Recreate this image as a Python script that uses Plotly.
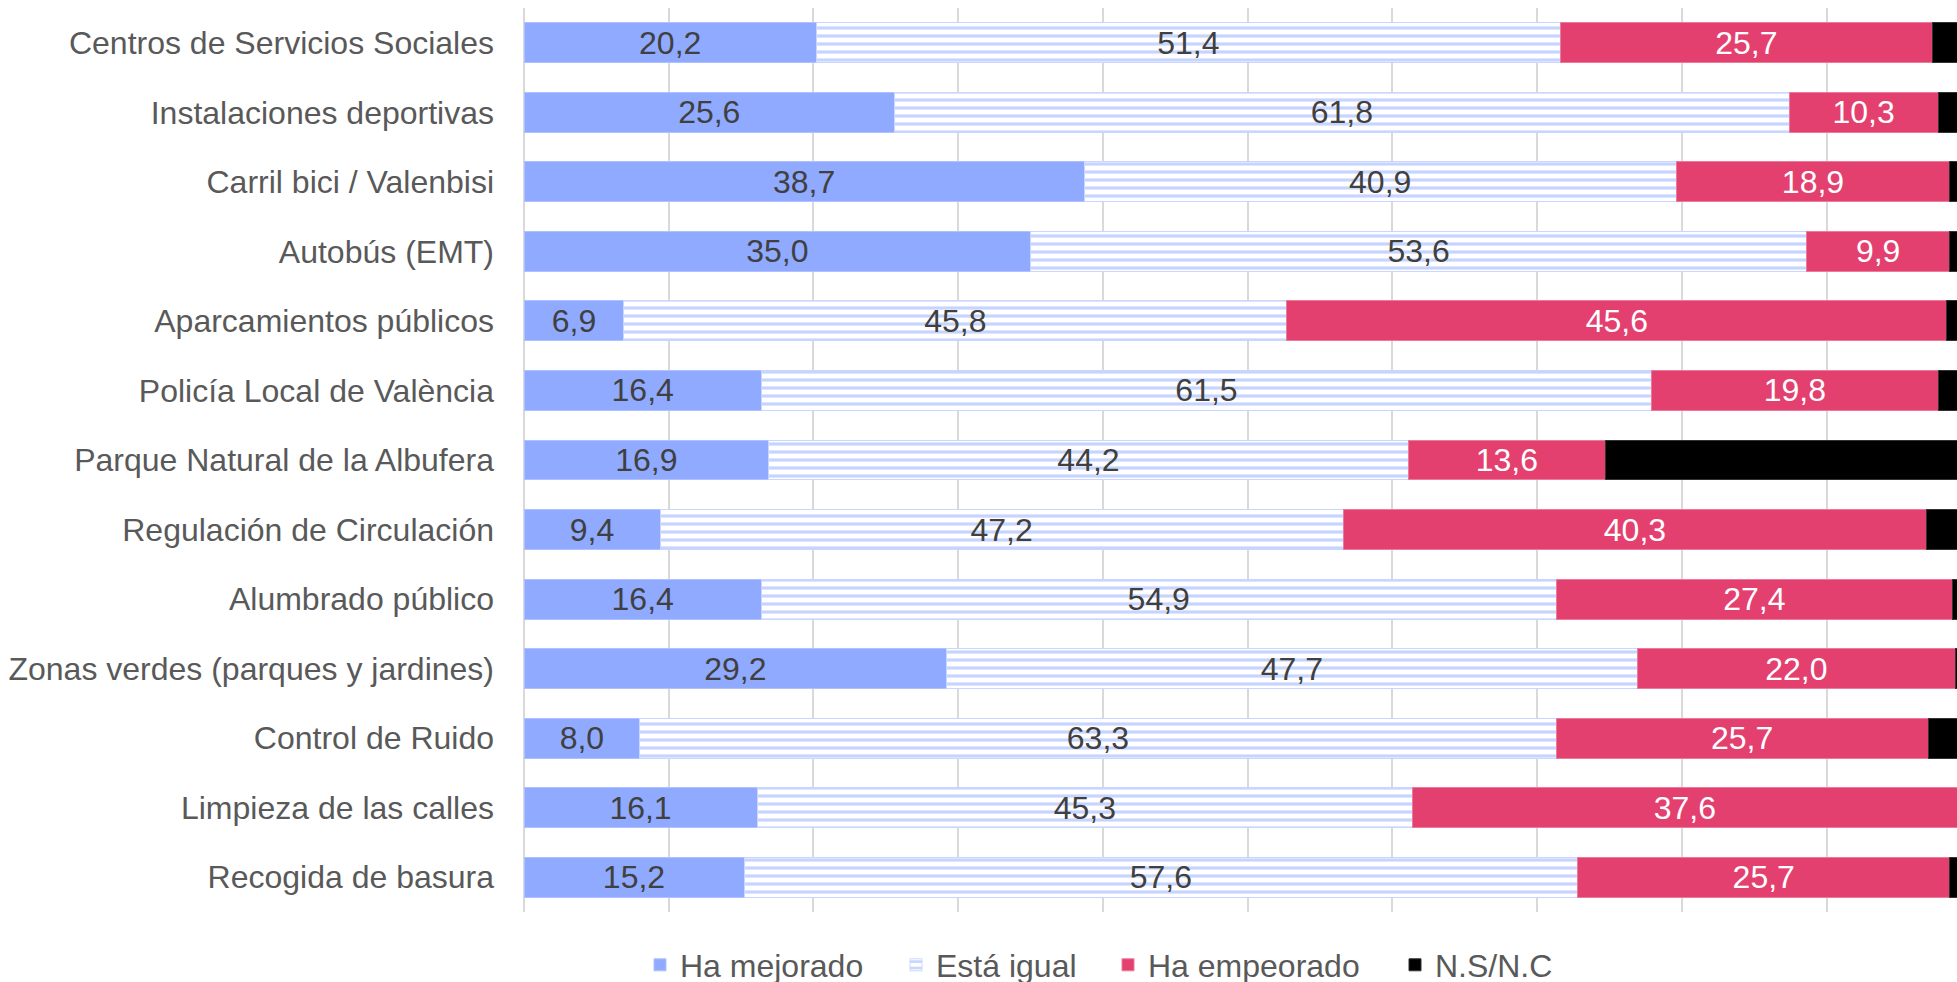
import plotly.graph_objects as go

categories = [
    "Centros de Servicios Sociales",
    "Instalaciones deportivas",
    "Carril bici / Valenbisi",
    "Autobús (EMT)",
    "Aparcamientos públicos",
    "Policía Local de València",
    "Parque Natural de la Albufera",
    "Regulación de Circulación",
    "Alumbrado público",
    "Zonas verdes (parques y jardines)",
    "Control de Ruido",
    "Limpieza de las calles",
    "Recogida de basura",
]
ha_mejorado = [20.2, 25.6, 38.7, 35.0, 6.9, 16.4, 16.9, 9.4, 16.4, 29.2, 8.0, 16.1, 15.2]
esta_igual = [51.4, 61.8, 40.9, 53.6, 45.8, 61.5, 44.2, 47.2, 54.9, 47.7, 63.3, 45.3, 57.6]
ha_empeorado = [25.7, 10.3, 18.9, 9.9, 45.6, 19.8, 13.6, 40.3, 27.4, 22.0, 25.7, 37.6, 25.7]
ns_nc = [2.7, 2.3, 1.5, 1.5, 1.7, 2.3, 25.3, 3.1, 1.3, 1.1, 3.0, 1.0, 1.5]

FONT = "Liberation Sans, Arial, sans-serif"
BLUE = "#8FAAFF"
PINK = "#E4406F"
FS = 32

fig = go.Figure()
fig.add_trace(go.Bar(
    y=categories, x=ha_mejorado, orientation="h", name="Ha mejorado", legend="legend",
    marker=dict(color=BLUE, line=dict(color="#AFC2FF", width=1)),
    texttemplate="%{x:.1f}", textposition="inside", insidetextanchor="middle",
    textangle=0, constraintext="none",
    textfont=dict(family=FONT, size=FS, color="#404040"),
))
fig.add_trace(go.Bar(
    y=categories, x=esta_igual, orientation="h", name="Está igual", legend="legend2",
    marker=dict(color="white", line=dict(color="#C9D6FF", width=1),
                pattern=dict(shape="-", fgcolor=BLUE, bgcolor="white", size=8, solidity=0.4)),
    texttemplate="%{x:.1f}", textposition="inside", insidetextanchor="middle",
    textangle=0, constraintext="none",
    textfont=dict(family=FONT, size=FS, color="#404040"),
))
fig.add_trace(go.Bar(
    y=categories, x=ha_empeorado, orientation="h", name="Ha empeorado", legend="legend3",
    marker=dict(color=PINK, line=dict(color="#EC7A9A", width=1)),
    texttemplate="%{x:.1f}", textposition="inside", insidetextanchor="middle",
    textangle=0, constraintext="none",
    textfont=dict(family=FONT, size=FS, color="white"),
))
fig.add_trace(go.Bar(
    y=categories, x=ns_nc, orientation="h", name="N.S/N.C", legend="legend4",
    marker=dict(color="black", line=dict(color="#333333", width=1)),
    textposition="none",
))

W, H = 1957, 982


def leg(px):
    return dict(
        orientation="h", xref="container", yref="container",
        x=px / W, xanchor="left", y=1 - 965 / H, yanchor="middle",
        font=dict(family=FONT, size=FS, color="#595959"),
        bgcolor="rgba(0,0,0,0)",
    )


fig.update_layout(
    barmode="stack",
    bargap=0.425,
    width=W, height=H,
    margin=dict(l=524, r=0, t=8, b=70, pad=0),
    paper_bgcolor="white", plot_bgcolor="white",
    separators=",.",
    font=dict(family=FONT, size=FS, color="#595959"),
    showlegend=True,
    legend=leg(640),
    legend2=leg(896),
    legend3=leg(1108),
    legend4=leg(1395),
)
fig.update_xaxes(
    range=[0, 99.0], dtick=10, tick0=0, showticklabels=False,
    showgrid=True, gridcolor="#D9D9D9", gridwidth=1.5,
    zeroline=True, zerolinecolor="#D9D9D9", zerolinewidth=1.5,
    showline=False, fixedrange=True,
)
fig.update_yaxes(
    autorange="reversed", showgrid=False, showline=False, ticks="",
    ticklabelstandoff=29,
    tickfont=dict(family=FONT, size=FS, color="#595959"),
)

fig.write_html(
    "out.html",
    config={"displayModeBar": False},
    post_script="document.body.style.margin='0';document.body.style.overflow='hidden';",
)
